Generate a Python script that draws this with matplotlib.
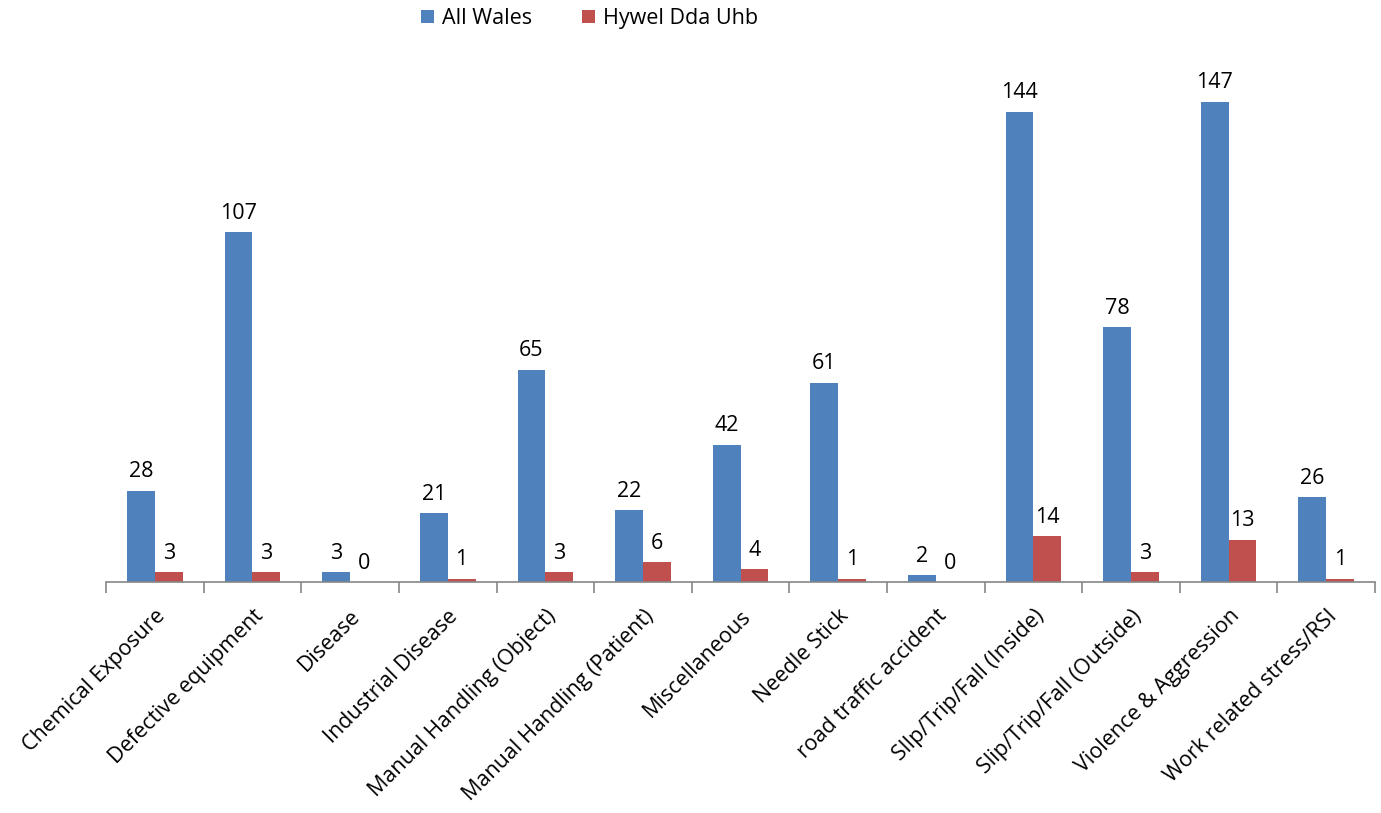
import numpy as np
import matplotlib
matplotlib.use("Agg")
import matplotlib.pyplot as plt

categories = [
    "Chemical Exposure", "Defective equipment", "Disease", "Industrial Disease",
    "Manual Handling (Object)", "Manual Handling (Patient)", "Miscellaneous",
    "Needle Stick", "road traffic accident", "SlIp/Trip/Fall (Inside)",
    "Slip/Trip/Fall (Outside)", "Violence & Aggression", "Work related stress/RSI",
]
all_wales = [28, 107, 3, 21, 65, 22, 42, 61, 2, 144, 78, 147, 26]
hywel_dda = [3, 3, 0, 1, 3, 6, 4, 1, 0, 14, 3, 13, 1]

BLUE = "#4F81BD"
RED = "#C0504D"
AXIS_GREY = "#868686"
FS = 15.5

plt.rcParams["font.family"] = ["Open Sans", "DejaVu Sans"]

fig = plt.figure(figsize=(13.81, 8.13), dpi=100)
ax = fig.add_axes([0.0768, 0.2841, 0.9189, 0.643])

x = np.arange(len(categories))
w = 0.285
b1 = ax.bar(x - w / 2, all_wales, w, color=BLUE, label="All Wales")
b2 = ax.bar(x + w / 2, hywel_dda, w, color=RED, label="Hywel Dda Uhb")

for bars, vals in ((b1, all_wales), (b2, hywel_dda)):
    for rect, v in zip(bars, vals):
        ax.annotate(str(v), (rect.get_x() + rect.get_width() / 2, v),
                    xytext=(0, 6), textcoords="offset points",
                    ha="center", va="bottom", fontsize=FS, color="black")

ax.set_xlim(-0.5, len(categories) - 0.5)
ax.set_ylim(0, 160)
ax.set_yticks([])

for s in ("top", "right", "left"):
    ax.spines[s].set_visible(False)
ax.spines["bottom"].set_color(AXIS_GREY)
ax.spines["bottom"].set_linewidth(1.2)

ax.set_xticks(x)
ax.set_xticklabels(categories, rotation=45, ha="right", rotation_mode="anchor",
                   fontsize=FS)
ax.tick_params(axis="x", which="major", length=0, pad=17)
ax.set_xticks(np.arange(-0.5, len(categories)), minor=True)
ax.tick_params(axis="x", which="minor", length=8, width=1.2, color=AXIS_GREY)

ax.legend(loc="center", bbox_to_anchor=(0.381, 1.078), ncol=2, frameon=False,
          fontsize=FS, handlelength=0.6, handleheight=0.6, columnspacing=2.3,
          handletextpad=0.4)

fig.savefig("out.png", dpi=100)
